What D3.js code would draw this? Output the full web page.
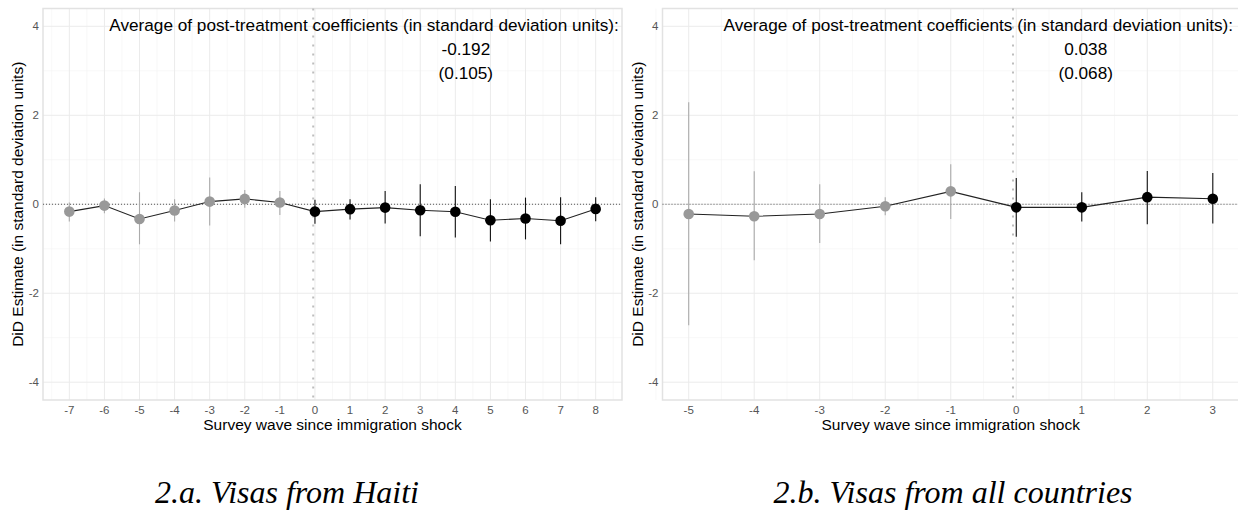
<!DOCTYPE html>
<html>
<head>
<meta charset="utf-8">
<script src="https://cdn.jsdelivr.net/npm/d3@7"></script>
<style>
  body { margin: 0; background: #fff; }
  svg { display: block; font-family: "Liberation Sans", Arial, sans-serif; }
</style>
</head>
<body>
<svg id="chart" width="1238" height="511"></svg>
<script>
// ---- data: panel a (visas from Haiti) ----
const haitiWaves = [-7, -6, -5, -4, -3, -2, -1, 0, 1, 2, 3, 4, 5, 6, 7, 8];
const haitiEst   = [-0.165, -0.03, -0.33, -0.14, 0.06, 0.12, 0.04, -0.165, -0.11, -0.075, -0.135, -0.17, -0.36, -0.32, -0.37, -0.105];
const haitiHi    = [0.04, 0.13, 0.27, 0.11, 0.60, 0.32, 0.30, 0.10, 0.11, 0.30, 0.45, 0.41, 0.11, 0.15, 0.16, 0.16];
const haitiLo    = [-0.39, -0.20, -0.90, -0.39, -0.48, -0.08, -0.24, -0.44, -0.34, -0.43, -0.72, -0.75, -0.84, -0.79, -0.90, -0.38];
const haitiAvg   = ["-0.192", "(0.105)"];

// ---- data: panel b (visas from all countries) ----
const allWaves = [-5, -4, -3, -2, -1, 0, 1, 2, 3];
const allEst   = [-0.22, -0.27, -0.22, -0.045, 0.29, -0.07, -0.07, 0.16, 0.125];
const allHi    = [2.29, 0.74, 0.45, 0.16, 0.90, 0.59, 0.27, 0.75, 0.70];
const allLo    = [-2.72, -1.26, -0.87, -0.25, -0.33, -0.73, -0.39, -0.45, -0.43];
const allAvg   = ["0.038", "(0.068)"];

const yTicks = [-4, -2, 0, 2, 4];
const yMinor = [-3, -1, 1, 3];
const avgTitle = "Average of post-treatment coefficients (in standard deviation units):";
const xTitle = "Survey wave since immigration shock";
const yTitle = "DiD Estimate (in standard deviation units)";

const svg = d3.select("#chart");

function drawPanel(cfg) {
    const rows = cfg.waves.map((w, i) => ({ w, est: cfg.est[i], lo: cfg.lo[i], hi: cfg.hi[i] }));

    const x = d3.scaleLinear().domain(cfg.xDomain).range([cfg.left, cfg.right]);
    const y = d3.scaleLinear().domain([-4.4, 4.4]).range([400, 8.5]);

    const g = svg.append("g");

    // grid
    const xMinor = cfg.waves.slice(0, -1).map(w => w + 0.5)
        .concat([cfg.waves[0] - 0.5, cfg.waves[cfg.waves.length - 1] + 0.5]);
    g.selectAll(".vminor").data(xMinor).join("line")
        .attr("x1", d => x(d)).attr("x2", d => x(d))
        .attr("y1", y(-4.4)).attr("y2", y(4.4))
        .attr("stroke", "#f3f3f3").attr("stroke-width", 0.6);
    g.selectAll(".hminor").data(yMinor).join("line")
        .attr("x1", cfg.left).attr("x2", cfg.right)
        .attr("y1", d => y(d)).attr("y2", d => y(d))
        .attr("stroke", "#f3f3f3").attr("stroke-width", 0.6);
    g.selectAll(".vmajor").data(cfg.waves).join("line")
        .attr("x1", d => x(d)).attr("x2", d => x(d))
        .attr("y1", y(-4.4)).attr("y2", y(4.4))
        .attr("stroke", "#ebebeb").attr("stroke-width", 1);
    g.selectAll(".hmajor").data(yTicks).join("line")
        .attr("x1", cfg.left).attr("x2", cfg.right)
        .attr("y1", d => y(d)).attr("y2", d => y(d))
        .attr("stroke", "#ebebeb").attr("stroke-width", 1);

    // panel border
    g.append("rect")
        .attr("x", cfg.left).attr("y", y(4.4))
        .attr("width", cfg.right - cfg.left).attr("height", y(-4.4) - y(4.4))
        .attr("fill", "none").attr("stroke", "#e2e2e2").attr("stroke-width", 1.5);

    // reference lines
    g.append("line")
        .attr("x1", cfg.left).attr("x2", cfg.right)
        .attr("y1", y(0)).attr("y2", y(0))
        .attr("stroke", "#555").attr("stroke-width", 1)
        .attr("stroke-dasharray", "1,2");
    g.append("line")
        .attr("x1", x(-0.05)).attr("x2", x(-0.05))
        .attr("y1", y(4.4)).attr("y2", y(-4.4))
        .attr("stroke", "#bdbdbd").attr("stroke-width", 2)
        .attr("stroke-dasharray", "2,7");

    // axes labels
    g.selectAll(".ytick").data(yTicks).join("text")
        .attr("x", cfg.left - 4).attr("y", d => y(d) + 4)
        .attr("text-anchor", "end").attr("font-size", 11.5).attr("fill", "#555")
        .text(d => d);
    g.selectAll(".xtick").data(cfg.waves).join("text")
        .attr("x", d => x(d)).attr("y", 414)
        .attr("text-anchor", "middle").attr("font-size", 11.5).attr("fill", "#555")
        .text(d => d);
    g.append("text")
        .attr("x", (cfg.left + cfg.right) / 2).attr("y", 430)
        .attr("text-anchor", "middle").attr("font-size", 15.5).attr("fill", "#000")
        .text(xTitle);
    g.append("text")
        .attr("transform", `translate(${cfg.left - 20},${(y(4.4) + y(-4.4)) / 2}) rotate(-90)`)
        .attr("text-anchor", "middle").attr("font-size", 15.5).attr("fill", "#000")
        .text(yTitle);

    // error bars
    g.selectAll(".err").data(rows).join("line")
        .attr("x1", d => x(d.w)).attr("x2", d => x(d.w))
        .attr("y1", d => y(d.lo)).attr("y2", d => y(d.hi))
        .attr("stroke", d => d.w < 0 ? "#ababab" : "#111")
        .attr("stroke-width", 1.1);

    // connecting line
    g.append("path")
        .datum(rows)
        .attr("fill", "none").attr("stroke", "#222").attr("stroke-width", 1.1)
        .attr("d", d3.line().x(d => x(d.w)).y(d => y(d.est)));

    // points
    g.selectAll(".pt").data(rows).join("circle")
        .attr("cx", d => x(d.w)).attr("cy", d => y(d.est)).attr("r", 5.3)
        .attr("fill", d => d.w < 0 ? "#999" : "#000");

    // annotation
    g.append("text")
        .attr("x", x(cfg.titleX)).attr("y", 31)
        .attr("text-anchor", "end").attr("font-size", 17.2).attr("fill", "#000")
        .text(avgTitle);
    g.selectAll(".avg").data(cfg.avg).join("text")
        .attr("x", x(cfg.avgX)).attr("y", (d, i) => 55 + i * 24)
        .attr("text-anchor", "middle").attr("font-size", 17.2).attr("fill", "#000")
        .text(d => d);

    // caption
    svg.append("text")
        .attr("x", cfg.capX).attr("y", 503)
        .attr("text-anchor", "middle")
        .style("font-family", "'Liberation Serif', 'Times New Roman', serif")
        .style("font-style", "italic")
        .attr("font-size", 32).attr("fill", "#000")
        .text(cfg.caption);
}

drawPanel({
    waves: haitiWaves, est: haitiEst, lo: haitiLo, hi: haitiHi, avg: haitiAvg,
    xDomain: [-7.75, 8.75], left: 43, right: 622,
    titleX: 8.66, avgX: 4.3, capX: 287, caption: "2.a. Visas from Haiti"
});

drawPanel({
    waves: allWaves, est: allEst, lo: allLo, hi: allHi, avg: allAvg,
    xDomain: [-5.4, 3.4], left: 662.5, right: 1239,
    titleX: 3.31, avgX: 1.06, capX: 953, caption: "2.b. Visas from all countries"
});
</script>
</body>
</html>
